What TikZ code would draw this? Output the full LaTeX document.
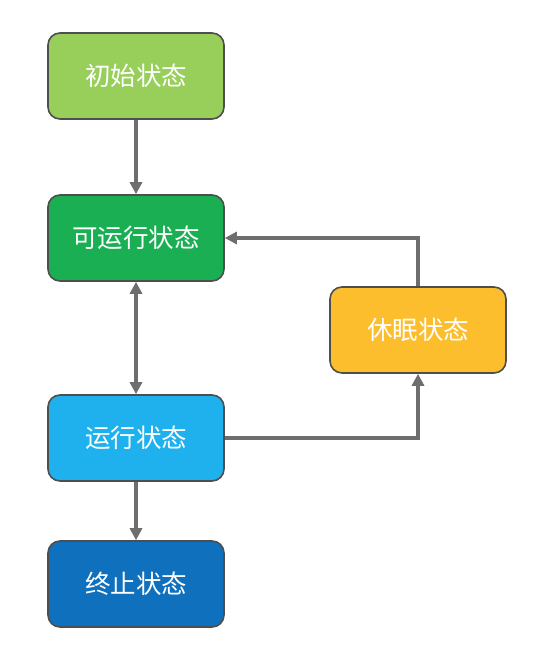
\documentclass[tikz,border=0pt]{standalone}
\usepackage{fontspec}
\setmainfont{Noto Sans CJK SC}
\usetikzlibrary{arrows.meta}
\definecolor{initc}{HTML}{98CE5A}
\definecolor{readyc}{HTML}{1BAF54}
\definecolor{runc}{HTML}{1FB1EE}
\definecolor{endc}{HTML}{0F70BD}
\definecolor{sleepc}{HTML}{FDBE2E}
\definecolor{edgec}{HTML}{6E6E6E}
\definecolor{borderc}{HTML}{4E4E4E}
\tikzset{
  every node/.style={draw=borderc,line width=1.6pt,rounded corners=12pt,
    minimum width=176pt,minimum height=86pt,text=white,font=\fontsize{25.5}{30}\selectfont},
  init/.style={fill=initc},
  ready/.style={fill=readyc},
  run/.style={fill=runc},
  dead/.style={fill=endc},
  sleep/.style={fill=sleepc},
  link/.style={draw=edgec,line width=3.5pt,-{Triangle[width=12pt,length=12pt]}}
}

\begin{document}
\begin{tikzpicture}[x=1pt,y=1pt]
      \useasboundingbox (0,0) rectangle (536,656);
      \node [init] (I) at (136,580) {初始状态};
      \node [ready] (R) at (136,418) {可运行状态};
      \node [run] (U) at (136,218) {运行状态};
      \node [dead] (T) at (136,72) {终止状态};
      \node [sleep] (S) at (418,326) {休眠状态};

      \foreach \from/\to in {I/R,U/T}
        \draw [link] (\from) -- (\to);
      \draw [link,{Triangle[width=12pt,length=12pt]}-{Triangle[width=12pt,length=12pt]}] (R) -- (U);
      \draw [link] (U.east) -| (S.south);
      \draw [link] (S.north) |- (R.east);
    \end{tikzpicture}
\end{document}
